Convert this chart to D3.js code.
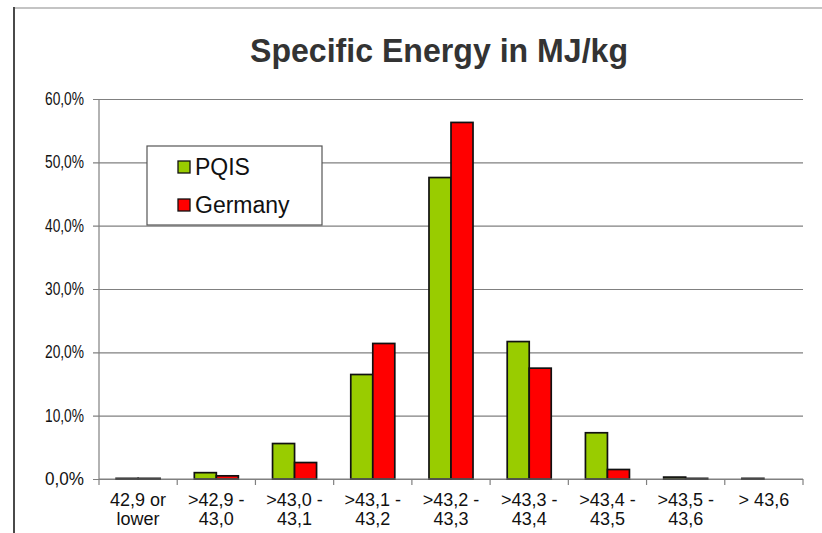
<!DOCTYPE html>
<html>
<head>
<meta charset="utf-8">
<script src="https://cdn.jsdelivr.net/npm/d3@7"></script>
<style>
  html, body { margin: 0; padding: 0; background: #fff; }
  svg { display: block; font-family: Arial, "Liberation Sans", sans-serif; }
</style>
</head>
<body>
<svg id="chart" width="822" height="533"></svg>
<script>
// Class intervals of specific energy (MJ/kg), one entry per label line
const categories = [
  ["42,9 or", "lower"],
  [">42,9 -", "43,0"],
  [">43,0 -", "43,1"],
  [">43,1 -", "43,2"],
  [">43,2 -", "43,3"],
  [">43,3 -", "43,4"],
  [">43,4 -", "43,5"],
  [">43,5 -", "43,6"],
  ["> 43,6"]
];
const seriesNames = ["PQIS", "Germany"];
// Share of samples per class, in percent
const pqisValues    = [0.1, 1.0, 5.6, 16.5, 47.6, 21.7, 7.3, 0.3, 0.1];
const germanyValues = [0.1, 0.5, 2.6, 21.4, 56.3, 17.5, 1.5, 0.1, 0.0];
const yTicks = [0, 10, 20, 30, 40, 50, 60];
const colors = ["#99CC00", "#FF0000"];

const svg = d3.select("#chart");
const plotLeft = 99, plotRight = 803, plotTop = 99, plotBottom = 479;

// outer frame
svg.append("line").attr("x1", 14).attr("x2", 822).attr("y1", 8).attr("y2", 8)
  .attr("stroke", "#c4c4c4").attr("stroke-width", 2);
svg.append("line").attr("x1", 14).attr("x2", 14).attr("y1", 7).attr("y2", 533)
  .attr("stroke", "#4a4a4a").attr("stroke-width", 2);

// title
svg.append("text")
  .attr("x", 439).attr("y", 62)
  .attr("text-anchor", "middle")
  .attr("font-size", 34).attr("font-weight", "bold").attr("fill", "#333")
  .attr("textLength", 378).attr("lengthAdjust", "spacingAndGlyphs")
  .text("Specific Energy in MJ/kg");

const x0 = d3.scaleBand().domain(d3.range(categories.length)).range([plotLeft, plotRight]).padding(0);
const x1 = d3.scaleBand().domain(seriesNames).range([0, x0.bandwidth()]).paddingInner(0).paddingOuter(0.777);
const y = d3.scaleLinear().domain([0, 60]).range([plotBottom, plotTop]);

// horizontal gridlines with outward ticks
const yAxis = d3.axisLeft(y).tickValues(yTicks)
  .tickSize(-(plotRight - plotLeft)).tickPadding(10)
  .tickFormat(d => d3.format(".1f")(d).replace(".", ",") + "%");
const gy = svg.append("g").attr("transform", `translate(${plotLeft},0)`).call(yAxis);
gy.select(".domain").remove();
gy.selectAll(".tick line").attr("stroke", "#808080").attr("stroke-width", 1.2)
  .attr("x1", -6);
gy.selectAll(".tick text").attr("font-size", 17.5).attr("fill", "#111")
  .attr("font-family", "Arial, 'Liberation Sans', sans-serif")
  .attr("x", -15).attr("textLength", 39).attr("lengthAdjust", "spacingAndGlyphs");

// y axis line
svg.append("line").attr("x1", plotLeft).attr("x2", plotLeft).attr("y1", plotTop).attr("y2", plotBottom)
  .attr("stroke", "#808080").attr("stroke-width", 1.2);

// bars
const rows = categories.map((c, i) => ({ i, values: [pqisValues[i], germanyValues[i]] }));
const groups = svg.append("g").selectAll("g").data(rows).join("g")
  .attr("transform", d => `translate(${x0(d.i)},0)`);
groups.selectAll("rect")
  .data(d => d.values.map((v, k) => ({ name: seriesNames[k], v, k })).filter(e => e.v > 0))
  .join("rect")
  .attr("x", e => x1(e.name))
  .attr("width", x1.bandwidth())
  .attr("y", e => y(e.v))
  .attr("height", e => y(0) - y(e.v))
  .attr("fill", e => colors[e.k])
  .attr("stroke", "#111").attr("stroke-width", 1.7);

// x axis with boundary ticks
const xAxis = svg.append("g");
xAxis.append("line").attr("x1", plotLeft).attr("x2", plotRight).attr("y1", plotBottom).attr("y2", plotBottom)
  .attr("stroke", "#808080").attr("stroke-width", 1.2);
xAxis.selectAll("line.tick").data(d3.range(categories.length + 1)).join("line")
  .attr("class", "tick")
  .attr("x1", d => plotLeft + d * x0.step()).attr("x2", d => plotLeft + d * x0.step())
  .attr("y1", plotBottom).attr("y2", plotBottom + 6)
  .attr("stroke", "#808080").attr("stroke-width", 1.2);

// category labels
const labels = svg.append("g").selectAll("text").data(categories).join("text")
  .attr("text-anchor", "middle")
  .attr("font-size", 18).attr("fill", "#111");
labels.selectAll("tspan").data((d, i) => d.map(line => ({ line, i }))).join("tspan")
  .attr("x", d => x0(d.i) + x0.bandwidth() / 2)
  .attr("y", (d, j) => 506 + j * 19)
  .text(d => d.line);

// legend
const legend = svg.append("g");
legend.append("rect").attr("x", 147).attr("y", 146).attr("width", 175).attr("height", 79)
  .attr("fill", "#fff").attr("stroke", "#555").attr("stroke-width", 1.2);
seriesNames.forEach((name, k) => {
  legend.append("rect").attr("x", 178).attr("y", 161 + k * 38).attr("width", 12).attr("height", 12)
    .attr("fill", colors[k]).attr("stroke", "#111").attr("stroke-width", 1.3);
  legend.append("text").attr("x", 195).attr("y", 175 + k * 38)
    .attr("font-size", 23).attr("fill", "#111").text(name);
});
</script>
</body>
</html>
